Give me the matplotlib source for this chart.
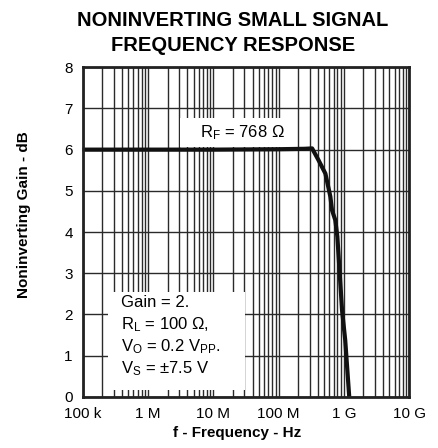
import matplotlib as mpl
import matplotlib.pyplot as plt
from matplotlib.patches import Rectangle
from matplotlib.ticker import FixedLocator, NullFormatter

mpl.rcParams.update({
    "font.family": ["Liberation Sans", "DejaVu Sans"],
    "mathtext.default": "regular",
    "mathtext.fontset": "custom",
    "mathtext.rm": "Liberation Sans",
    "savefig.bbox": None,
})

# ── data ────────────────────────────────────────────────────────
freq_hz = [1e5, 1e6, 1e7, 1e8, 2.5e8, 3.27e8, 4.08e8, 5.22e8, 6.22e8,
           6.6e8, 7.4e8, 7.96e8, 9.4e8, 1.05e9, 1.21e9]
gain_db = [6.0, 6.0, 6.0, 6.01, 6.02, 6.03, 5.75, 5.42, 4.86,
           4.53, 4.29, 3.89, 2.1, 1.38, 0.0]

x_ticks = [1e5, 1e6, 1e7, 1e8, 1e9, 1e10]
x_ticklabels = ["100 k", "1 M", "10 M", "100 M", "1 G", "10 G"]
y_ticks = [0, 1, 2, 3, 4, 5, 6, 7, 8]

title = "NONINVERTING SMALL SIGNAL\nFREQUENCY RESPONSE"
rf_label = r"R$_F$ = 768 Ω"
cond_lines = ["Gain = 2.",
              r"R$_L$ = 100 Ω,",
              r"V$_O$ = 0.2 V$_{PP}$.",
              r"V$_S$ = ±7.5 V"]

GRID = "#2a2a2a"

fig = plt.figure(figsize=(4.39, 4.48), dpi=100)
ax = fig.add_axes([0.188, 0.114, 0.744, 0.736])

ax.set_xscale("log")
ax.set_xlim(1e5, 1e10)
ax.set_ylim(0, 8)

# log grid: major + minor lines
minor = [m * 10.0 ** e for e in range(5, 10) for m in range(2, 10)]
ax.xaxis.set_major_locator(FixedLocator(x_ticks))
ax.xaxis.set_minor_locator(FixedLocator(minor))
ax.xaxis.set_minor_formatter(NullFormatter())
ax.set_xticklabels(x_ticklabels)
ax.set_yticks(y_ticks)
ax.grid(which="major", color=GRID, linewidth=1.0)
ax.grid(which="minor", axis="x", color=GRID, linewidth=1.0)
ax.set_axisbelow(True)
ax.tick_params(which="both", length=0, labelsize=11, pad=7)

for s in ax.spines.values():
    s.set_linewidth(2.0)
    s.set_color("#222222")
    s.set_zorder(6)

ax.plot(freq_hz, gain_db, color="#111111", linewidth=3.0,
        solid_capstyle="butt", zorder=5, clip_on=False)

# white label panels that hide the grid
ax.add_patch(Rectangle((0.299, 0.758), 0.358, 0.087, transform=ax.transAxes,
                       facecolor="white", edgecolor="none", zorder=3))
ax.add_patch(Rectangle((0.078, 0.021), 0.42, 0.297, transform=ax.transAxes,
                       facecolor="white", edgecolor="none", zorder=3))

ax.text(0.488, 0.803, rf_label, transform=ax.transAxes, ha="center",
        va="center", fontsize=12, zorder=4)
for i, line in enumerate(cond_lines):
    ax.text(0.118, 0.285 - i * 0.0667, line, transform=ax.transAxes,
            ha="left", va="center", fontsize=12, zorder=4)

fig.text(0.53, 0.975, title, ha="center", va="top", fontsize=14.5,
         fontweight="bold", linespacing=1.4)
fig.text(0.54, 0.018, "f - Frequency - Hz", ha="center", va="bottom",
         fontsize=11, fontweight="bold")
fig.text(0.055, 0.52, "Noninverting Gain - dB", ha="center", va="center",
         rotation=90, fontsize=11, fontweight="bold")

fig.savefig("out.png", dpi=100)
